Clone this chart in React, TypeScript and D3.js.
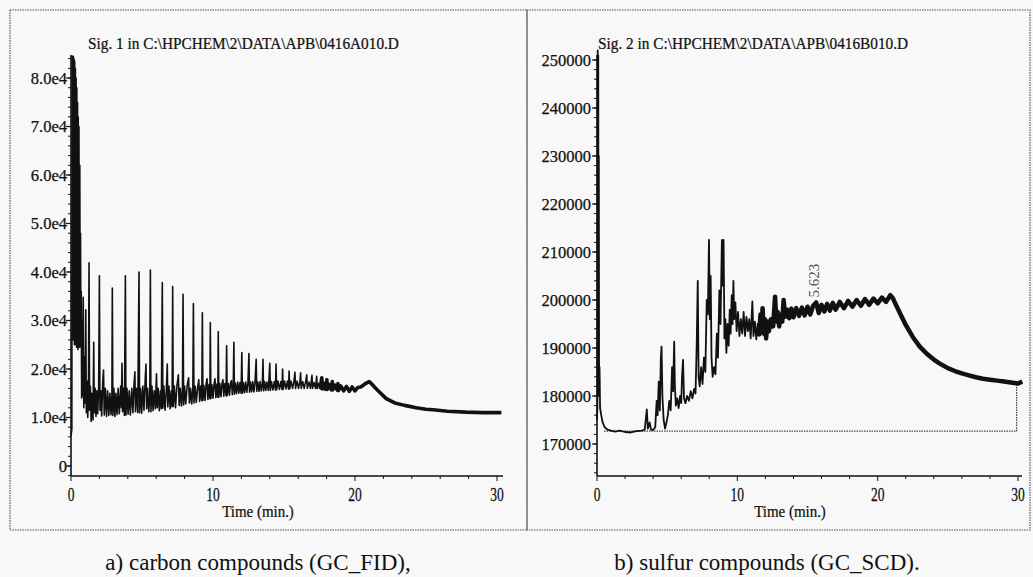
import React from 'react';
import * as d3 from 'd3';

// ---------- DATA ----------
const panelTitles = [
  'Sig. 1 in C:\\HPCHEM\\2\\DATA\\APB\\0416A010.D',
  'Sig. 2 in C:\\HPCHEM\\2\\DATA\\APB\\0416B010.D',
];
const captions = ['a) carbon compounds (GC_FID),', 'b) sulfur compounds (GC_SCD).'];
const timeTicks = [0, 10, 20, 30];
const timeLabel = 'Time (min.)';
const fidTicks = [0, 10000, 20000, 30000, 40000, 50000, 60000, 70000, 80000];
const fidTickLabels = ['0', '1.0e4', '2.0e4', '3.0e4', '4.0e4', '5.0e4', '6.0e4', '7.0e4', '8.0e4'];
const scdTicks = [170000, 180000, 190000, 200000, 210000, 220000, 230000, 240000, 250000];
const scdPeakLabel = { t: 15.623, v: 199500, text: '5.623' };
const scdBaseline = { t0: 0.5, t1: 29.9, v: 172700, vEnd: 183000 };

// Signal 1 (FID) trace vertices [time (min), counts]
const fidTrace: [number, number][] = [
  [0.00, 6200], [0.03, 6900], [0.06, 7600], [0.08, 84500], [0.10, 30000], [0.12, 84500], [0.14, 26000], [0.16, 84500],
  [0.19, 28000], [0.21, 84000], [0.24, 25000], [0.26, 83500], [0.29, 30000], [0.31, 82000], [0.34, 25000], [0.36, 80000],
  [0.39, 24500], [0.41, 78000], [0.44, 27000], [0.46, 75000], [0.49, 24000], [0.51, 72000], [0.54, 25000], [0.56, 70000],
  [0.59, 24500], [0.62, 62000], [0.65, 25000], [0.67, 48000], [0.70, 24500], [0.72, 36000], [0.75, 14000], [0.78, 30000],
  [0.81, 14500],
  [0.86, 34800], [0.90, 12000], [0.95, 22500], [1.00, 13000], [1.04, 32200], [1.08, 11000], [1.13, 17500], [1.18, 10000],
  [1.23, 15000], [1.27, 41900], [1.31, 11500], [1.36, 16500], [1.42, 9200], [1.48, 15000], [1.55, 9500], [1.60, 25500],
  [1.64, 11000], [1.70, 16000], [1.76, 10200], [1.82, 15500], [1.88, 10800], [1.95, 16500], [2.00, 39200], [2.04, 11500],
  [2.10, 15500], [2.16, 10300], [2.24, 17500], [2.29, 19800], [2.34, 10500], [2.42, 16000], [2.50, 10200], [2.58, 15500],
  [2.66, 10400], [2.74, 15000], [2.82, 10600], [2.88, 14500], [2.91, 36700], [2.95, 10400], [3.02, 16000], [3.09, 10200],
  [3.16, 15000], [3.24, 10600], [3.32, 16000], [3.40, 10800], [3.50, 16500], [3.55, 12000], [3.59, 21200], [3.63, 11200],
  [3.70, 16000], [3.76, 10400], [3.83, 39200], [3.87, 10500], [3.94, 16000], [4.02, 10700], [4.10, 15500], [4.18, 10500],
  [4.28, 16000], [4.36, 11000], [4.44, 17000], [4.50, 19400], [4.54, 11200], [4.62, 16000], [4.70, 11000], [4.79, 40000],
  [4.83, 11000], [4.90, 16000], [4.98, 10900], [5.06, 16500], [5.14, 11500], [5.22, 17500], [5.28, 21000], [5.33, 11800],
  [5.40, 16000], [5.48, 11200], [5.55, 14500], [5.59, 40400], [5.63, 11200], [5.70, 16500], [5.78, 11400], [5.86, 15500],
  [5.94, 11800], [6.02, 19000], [6.07, 12000], [6.14, 16000], [6.22, 11400], [6.30, 15500], [6.36, 11800], [6.43, 37800],
  [6.47, 11900], [6.54, 16500], [6.62, 11500], [6.72, 16000], [6.78, 21000], [6.82, 12200], [6.90, 16500], [6.98, 11800],
  [7.06, 15500], [7.12, 12200], [7.16, 37000], [7.20, 12300], [7.28, 16500], [7.36, 12000], [7.46, 16500], [7.56, 18800],
  [7.62, 12500], [7.70, 16000], [7.78, 12400], [7.85, 15500], [7.89, 35400], [7.93, 12600], [8.00, 16500], [8.08, 12800],
  [8.18, 16500], [8.28, 18200], [8.34, 13000], [8.42, 16000], [8.50, 12800], [8.58, 15800], [8.62, 33500], [8.66, 13000],
  [8.74, 16500], [8.82, 13100], [8.92, 16200], [9.00, 17800], [9.06, 13300], [9.14, 16500], [9.21, 13500], [9.25, 31600],
  [9.29, 13500], [9.36, 16600], [9.44, 13500], [9.52, 17000], [9.58, 18000], [9.64, 13700], [9.72, 16800], [9.78, 13900],
  [9.81, 29600], [9.85, 13900], [9.92, 16800], [10.00, 14000], [10.08, 17000], [10.14, 18000], [10.20, 14100], [10.28, 16900],
  [10.34, 14200], [10.37, 27700], [10.41, 14200], [10.48, 17000], [10.56, 14300], [10.64, 17100], [10.70, 17800], [10.76, 14400],
  [10.84, 17000], [10.92, 14500], [10.96, 24800], [11.00, 14500], [11.08, 17000], [11.16, 14600], [11.24, 17200], [11.30, 17600],
  [11.36, 14700], [11.43, 17100], [11.47, 25500], [11.51, 14800], [11.58, 17100], [11.66, 14900], [11.74, 17300], [11.82, 15000],
  [11.90, 17200], [11.98, 15000], [12.03, 23400], [12.07, 15000], [12.14, 17200], [12.22, 15100], [12.30, 17300], [12.38, 15200],
  [12.46, 17100], [12.53, 23200], [12.57, 15200], [12.64, 17300], [12.72, 15300], [12.80, 17400], [12.88, 15300], [12.96, 17200],
  [13.04, 22000], [13.08, 15400], [13.16, 17300], [13.24, 15400], [13.32, 17400], [13.40, 15500], [13.48, 17200], [13.52, 22000],
  [13.56, 15500], [13.64, 17400], [13.72, 15600], [13.80, 17300], [13.90, 15600], [14.00, 21200], [14.04, 15600], [14.12, 17400],
  [14.22, 15700], [14.32, 17400], [14.40, 15700], [14.44, 21000], [14.48, 15700], [14.58, 17500], [14.68, 15800], [14.78, 17400],
  [14.86, 15800], [14.90, 20000], [14.94, 15800], [15.04, 17500], [15.14, 15900], [15.24, 17500], [15.32, 15900], [15.36, 19600],
  [15.40, 15900], [15.50, 17500], [15.60, 16000], [15.70, 17400], [15.77, 19300], [15.81, 16000], [15.92, 17500], [16.02, 16000],
  [16.12, 17400], [16.17, 19200], [16.21, 16000], [16.32, 17400], [16.42, 16000], [16.52, 17300], [16.60, 18800], [16.64, 16000],
  [16.76, 17300], [16.86, 16000], [16.97, 18700], [17.01, 16000], [17.12, 17200], [17.22, 16000], [17.30, 18500], [17.34, 16000],
  [17.46, 17100], [17.56, 15900], [17.66, 18200], [17.70, 15900], [17.82, 17000], [17.94, 15800], [18.02, 17800], [18.06, 15800],
  [18.20, 16800], [18.34, 15700], [18.40, 17400], [18.44, 15700], [18.60, 16700], [18.76, 15600], [18.80, 17000], [18.84, 15600],
  [19.00, 16500], [19.20, 15500], [19.40, 16400], [19.60, 15400], [19.80, 16300], [20.00, 15500], [20.20, 16200], [20.40, 16300],
  [20.60, 16700], [20.80, 17100], [21.00, 17400], [21.15, 17000], [21.40, 16200], [21.70, 15300], [22.20, 13900], [22.80, 13000],
  [23.50, 12500], [24.30, 12000], [25.00, 11700], [25.50, 11600], [26.50, 11300], [27.80, 11100], [29.00, 11000], [30.30, 11000],
];

// Signal 2 (SCD) trace vertices [time (min), counts]
const scdTrace: [number, number][] = [
  [0.00, 175000], [0.03, 178000], [0.05, 252000], [0.07, 200000], [0.09, 251000], [0.11, 185000], [0.13, 230000], [0.15, 180000],
  [0.18, 186000], [0.22, 177500], [0.30, 176000], [0.40, 174500], [0.55, 173500], [0.75, 173000], [1.0, 172800], [1.3, 172600],
  [1.6, 172800], [2.0, 172500], [2.4, 172400], [2.8, 172700], [3.2, 172800], [3.4, 173000], [3.55, 177200], [3.62, 173200],
  [3.75, 174500], [3.85, 173000], [4.0, 172900], [4.15, 173500], [4.25, 179000], [4.32, 176000], [4.4, 183000], [4.48, 177000],
  [4.55, 188000], [4.6, 190300], [4.66, 180000], [4.75, 175000], [4.85, 173200], [4.95, 174500], [5.05, 176000], [5.15, 179000],
  [5.25, 177000], [5.35, 186000], [5.42, 181000], [5.5, 191300], [5.55, 182000], [5.62, 178000], [5.72, 179500], [5.82, 177500],
  [5.92, 180000], [6.0, 178500], [6.06, 184000], [6.13, 187500], [6.2, 179500], [6.3, 178500], [6.42, 180000], [6.55, 179000],
  [6.68, 181000], [6.8, 179500], [6.92, 181500], [7.02, 180500], [7.1, 190000], [7.18, 204000], [7.24, 184000], [7.32, 182000],
  [7.42, 186000], [7.52, 182500], [7.62, 188000], [7.72, 185000], [7.82, 200000], [7.9, 197000], [7.98, 212500], [8.04, 196000],
  [8.1, 205000], [8.16, 188000], [8.24, 184000], [8.34, 186000], [8.44, 184500], [8.54, 193000], [8.62, 188000], [8.72, 202000],
  [8.8, 195000], [8.9, 212500], [8.96, 203000], [9.02, 212500], [9.08, 192000], [9.15, 196000], [9.22, 189000], [9.3, 195000],
  [9.38, 190500], [9.46, 198000], [9.52, 193000], [9.6, 201000], [9.66, 195000], [9.72, 204000], [9.78, 196000], [9.86, 199500],
  [9.95, 193500], [10.05, 197500], [10.15, 192500], [10.25, 196000], [10.35, 193000], [10.45, 197500], [10.55, 192500], [10.65, 196500],
  [10.75, 193500], [10.85, 196000], [10.95, 192000], [11.07, 199700], [11.15, 192500], [11.25, 195500], [11.35, 191800], [11.45, 195000],
  [11.55, 192500], [11.65, 197000], [11.72, 193500], [11.8, 198300], [11.88, 193000], [11.96, 196000], [12.05, 192000], [12.15, 195500],
  [12.25, 193500], [12.4, 196000], [12.55, 194500], [12.69, 200700], [12.78, 195500], [12.88, 197500], [12.98, 194500], [13.1, 197000],
  [13.2, 195500], [13.3, 200000], [13.4, 196500], [13.55, 198000], [13.7, 196200], [13.85, 198200], [14.0, 196400], [14.2, 198300],
  [14.4, 196700], [14.6, 198400], [14.8, 196800], [15.0, 198600], [15.2, 197000], [15.4, 198800], [15.62, 199500], [15.8, 197300],
  [16.0, 199000], [16.2, 197600], [16.4, 199200], [16.6, 197800], [16.8, 199400], [17.0, 198000], [17.3, 199600], [17.6, 198300],
  [17.9, 199800], [18.2, 198600], [18.5, 200000], [18.8, 198800], [19.1, 200200], [19.4, 199000], [19.7, 200300], [20.0, 199300],
  [20.3, 200500], [20.6, 199600], [20.9, 201000], [21.1, 200300], [21.3, 199000], [21.6, 197200], [22.0, 194800], [22.5, 192300],
  [23.0, 190300], [23.5, 188800], [24.0, 187600], [24.4, 186800], [25.0, 185800], [25.5, 185200], [26.0, 184700], [26.5, 184300],
  [27.0, 183900], [27.5, 183600], [28.0, 183400], [28.5, 183200], [29.0, 183000], [29.5, 182800], [30.0, 182600], [30.3, 183000],
];

// ---------- helpers ----------
const FONT = "'Liberation Serif','Times New Roman',Times,serif";

function CText(props: {
  x: number; y: number; size: number; sx?: number; anchor?: string; rotate?: number; fill?: string; heavy?: number; children: any;
}) {
  const { x, y, size, sx = 1, anchor = 'start', rotate = 0, fill = '#111', heavy = 0.25, children } = props;
  return (
    <text
      transform={`translate(${x},${y}) rotate(${rotate}) scale(${sx},1)`}
      fontSize={size}
      fontFamily={FONT}
      textAnchor={anchor as any}
      fill={fill}
      stroke={fill}
      strokeWidth={heavy}
    >
      {children}
    </text>
  );
}

export default function App() {
  // Panel A scales
  const xA = d3.scaleLinear().domain([0, 30]).range([71, 497]);
  const yA = d3.scaleLinear().domain([0, 80000]).range([466, 78]);
  // Panel B scales
  const xB = d3.scaleLinear().domain([0, 30]).range([597, 1018]);
  const yB = d3.scaleLinear().domain([170000, 250000]).range([444, 60]);

  const lineA = d3.line<[number, number]>().x((d) => xA(d[0])).y((d) => yA(d[1]));
  const lineB = d3.line<[number, number]>().x((d) => xB(d[0])).y((d) => yB(d[1]));

  const axisBottomY = 476;

  const minorFid = d3.range(-1, 43).map((i) => i * 2000).filter((v) => yA(v) >= 55 && yA(v) <= axisBottomY);
  const minorScd = d3.range(82, 126).map((i) => i * 2000).filter((v) => yB(v) >= 55 && yB(v) <= axisBottomY);
  const minorTime = d3.range(0, 16).map((i) => i * 2);

  const frameStyle = { stroke: '#555', strokeWidth: 1.2, strokeDasharray: '1.5 1', fill: 'none' };

  return (
    <svg width={1033} height={577} style={{ position: 'absolute', left: 0, top: 0, background: '#f8f8f8' }}>
      <rect x={0} y={0} width={1033} height={577} fill="#f8f8f8" />
      {/* frames */}
      <rect x={10} y={10} width={517} height={520} {...frameStyle} />
      <rect x={527} y={10} width={503} height={520} {...frameStyle} />

      {/* ---------- Panel A ---------- */}
      <CText x={88} y={49} size={17} sx={0.9}>{panelTitles[0]}</CText>
      <line x1={71} y1={55} x2={71} y2={axisBottomY} stroke="#111" strokeWidth={1.6} />
      <line x1={71} y1={axisBottomY} x2={503} y2={axisBottomY} stroke="#111" strokeWidth={1.6} />
      {minorFid.map((v) => (
        <line key={'mf' + v} x1={68} x2={71} y1={yA(v)} y2={yA(v)} stroke="#111" strokeWidth={1} />
      ))}
      {fidTicks.map((v, i) => (
        <g key={'tf' + v}>
          <line x1={66} x2={71} y1={yA(v)} y2={yA(v)} stroke="#111" strokeWidth={1.2} />
          <CText x={67} y={yA(v) + 5.5} size={16.5} anchor="end">{fidTickLabels[i]}</CText>
        </g>
      ))}
      {minorTime.map((t) => (
        <line key={'mta' + t} x1={xA(t)} x2={xA(t)} y1={axisBottomY} y2={axisBottomY + (t % 10 === 0 ? 5 : 3)} stroke="#111" strokeWidth={1} />
      ))}
      {timeTicks.map((t) => (
        <CText key={'xa' + t} x={xA(t)} y={501} size={18} sx={0.75} anchor="middle">{String(t)}</CText>
      ))}
      <CText x={258} y={517} size={17} sx={0.88} anchor="middle">{timeLabel}</CText>
      <path d={lineA(fidTrace) || ''} fill="none" stroke="#111" strokeWidth={1.6} strokeLinejoin="round" />
      <path d={lineA(fidTrace.filter((d) => d[0] >= 17.5)) || ''} fill="none" stroke="#111" strokeWidth={3.6} strokeLinejoin="round" />

      {/* ---------- Panel B ---------- */}
      <CText x={598} y={49} size={17} sx={0.9}>{panelTitles[1]}</CText>
      <line x1={597} y1={55} x2={597} y2={axisBottomY} stroke="#111" strokeWidth={1.6} />
      <line x1={597} y1={axisBottomY} x2={1022} y2={axisBottomY} stroke="#111" strokeWidth={1.6} />
      {minorScd.map((v) => (
        <line key={'ms' + v} x1={594} x2={597} y1={yB(v)} y2={yB(v)} stroke="#111" strokeWidth={1} />
      ))}
      {scdTicks.map((v) => (
        <g key={'ts' + v}>
          <line x1={592} x2={597} y1={yB(v)} y2={yB(v)} stroke="#111" strokeWidth={1.2} />
          <CText x={591} y={yB(v) + 5.5} size={16.5} anchor="end">{String(v)}</CText>
        </g>
      ))}
      {minorTime.map((t) => (
        <line key={'mtb' + t} x1={xB(t)} x2={xB(t)} y1={axisBottomY} y2={axisBottomY + (t % 10 === 0 ? 5 : 3)} stroke="#111" strokeWidth={1} />
      ))}
      {timeTicks.map((t) => (
        <CText key={'xb' + t} x={xB(t)} y={501} size={18} sx={0.75} anchor="middle">{String(t)}</CText>
      ))}
      <CText x={790} y={517} size={17} sx={0.88} anchor="middle">{timeLabel}</CText>
      <polyline
        points={`${xB(scdBaseline.t0)},${yB(scdBaseline.v)} ${xB(scdBaseline.t1)},${yB(scdBaseline.v)} ${xB(scdBaseline.t1)},${yB(scdBaseline.vEnd)}`}
        fill="none" stroke="#444" strokeWidth={1.2} strokeDasharray="1.5 1"
      />
      <path d={lineB(scdTrace) || ''} fill="none" stroke="#111" strokeWidth={1.8} strokeLinejoin="round" />
      <path d={lineB(scdTrace.filter((d) => d[0] >= 11.5)) || ''} fill="none" stroke="#111" strokeWidth={4.5} strokeLinejoin="round" />
      <CText x={xB(scdPeakLabel.t) + 3} y={yB(scdPeakLabel.v) - 5} size={15} rotate={-90} fill="#555" heavy={0}>{scdPeakLabel.text}</CText>

      {/* captions */}
      {captions.map((c, i) => (
        <CText key={'cap' + i} x={i === 0 ? 258 : 767} y={570} size={23} anchor="middle" heavy={0}>{c}</CText>
      ))}
    </svg>
  );
}
